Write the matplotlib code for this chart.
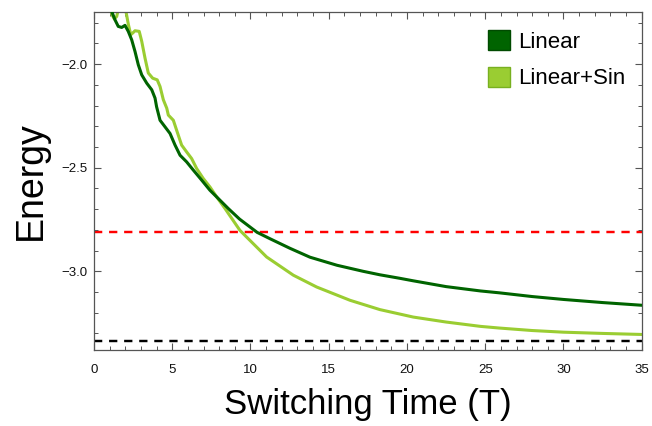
import matplotlib
matplotlib.use("Agg")
import matplotlib.pyplot as plt
from matplotlib.patches import Patch
from matplotlib.ticker import MultipleLocator

# Energy after switching, versus switching time T
t_linear = [1.0, 1.13, 1.34, 1.55, 1.77, 1.98, 2.19, 2.41, 2.62, 2.83, 3.05, 3.37,
            3.69, 3.9, 4.0, 4.22, 4.54, 4.86, 5.18, 5.5, 5.92, 6.35, 6.88, 7.41, 8.05,
            8.58, 9.3, 10.42, 11.25, 12.52, 13.8, 15.53, 17.19, 18.27, 19.55, 20.4,
            22.5, 24.7, 25.9, 28.0, 30.0, 32.5, 35.0]
e_linear = [-1.70, -1.745, -1.786, -1.818, -1.823, -1.813, -1.842, -1.883, -1.939,
            -2.003, -2.052, -2.092, -2.124, -2.164, -2.206, -2.271, -2.303, -2.335,
            -2.391, -2.44, -2.472, -2.512, -2.56, -2.609, -2.657, -2.697, -2.748,
            -2.812, -2.843, -2.889, -2.932, -2.971, -3.0, -3.017, -3.034, -3.046,
            -3.074, -3.095, -3.104, -3.122, -3.136, -3.151, -3.164]

t_linsin = [1.0, 1.15, 1.3, 1.45, 1.6, 1.9, 2.04, 2.2, 2.35, 2.5, 2.62, 2.89, 3.05,
            3.26, 3.47, 3.75, 4.04, 4.22, 4.43, 4.65, 4.75, 5.07, 5.28, 5.6, 5.92,
            6.24, 6.56, 6.98, 7.41, 7.84, 8.37, 9.33, 11.03, 12.74, 14.23, 16.36,
            18.27, 20.4, 22.5, 24.7, 25.9, 28.0, 30.0, 32.5, 35.0]
e_linsin = [-1.72, -1.762, -1.782, -1.770, -1.72, -1.70, -1.745, -1.81, -1.858,
            -1.848, -1.839, -1.842, -1.890, -1.971, -2.043, -2.068, -2.076, -2.108,
            -2.172, -2.213, -2.246, -2.271, -2.319, -2.391, -2.424, -2.456, -2.504,
            -2.552, -2.593, -2.641, -2.697, -2.803, -2.931, -3.019, -3.076, -3.14,
            -3.185, -3.221, -3.245, -3.266, -3.274, -3.286, -3.294, -3.300, -3.305]

ref_red = -2.81
ref_black = -3.338

series_names = ["Linear", "Linear+Sin"]
series_colors = ["#006400", "#9acd32"]
series_edges = ["#004a00", "#78b020"]

plt.rcParams["font.family"] = ["Liberation Sans", "DejaVu Sans"]

fig = plt.figure(figsize=(6.52, 4.26), dpi=100)
ax = fig.add_axes([94 / 652, 1 - 350 / 426, 547.7 / 652, 338.3 / 426])

dash = (0, (3.4, 2.8))
ax.axhline(ref_red, color="#ff0000", lw=1.75, ls=dash, zorder=1)
ax.axhline(ref_black, color="#000000", lw=1.75, ls=dash, zorder=1)

ax.plot(t_linear, e_linear, color=series_colors[0], lw=2.2, zorder=3,
        solid_joinstyle="round", solid_capstyle="round")
ax.plot(t_linsin, e_linsin, color=series_colors[1], lw=2.2, zorder=2,
        solid_joinstyle="round", solid_capstyle="round")

ax.set_xlim(0, 35)
ax.set_ylim(-3.38, -1.747)

ax.xaxis.set_major_locator(MultipleLocator(5))
ax.xaxis.set_minor_locator(MultipleLocator(1))
ax.yaxis.set_major_locator(MultipleLocator(0.5))
ax.yaxis.set_minor_locator(MultipleLocator(0.1))
ax.xaxis.set_major_formatter(lambda v, p: f"{v:g}")
ax.yaxis.set_major_formatter(lambda v, p: f"\u2212{abs(v):.1f}" if v < 0 else f"{v:.1f}")

frame_color = "#555555"
for s in ax.spines.values():
    s.set_color(frame_color)
    s.set_linewidth(0.9)
ax.tick_params(which="both", direction="in", top=True, right=True,
               color=frame_color, labelsize=9.5, labelcolor="#111111")
ax.tick_params(which="major", length=5, width=0.8)
ax.tick_params(which="minor", length=3, width=0.7)
ax.tick_params(axis="x", which="major", pad=10)
ax.tick_params(axis="y", which="major", pad=5)

ax.set_xlabel("Switching Time (T)", fontsize=25, labelpad=9)
ax.set_ylabel("Energy", fontsize=27, labelpad=9)

handles = [Patch(facecolor=c, edgecolor=e, lw=1.0) for c, e in zip(series_colors, series_edges)]
ax.legend(handles, series_names, loc="upper left", bbox_to_anchor=(0.719, 0.945),
          frameon=False, fontsize=16, handlelength=1.0, handleheight=1.0,
          handletextpad=0.36, labelspacing=0.62, borderpad=0, borderaxespad=0)

fig.savefig("out.png", dpi=100)
